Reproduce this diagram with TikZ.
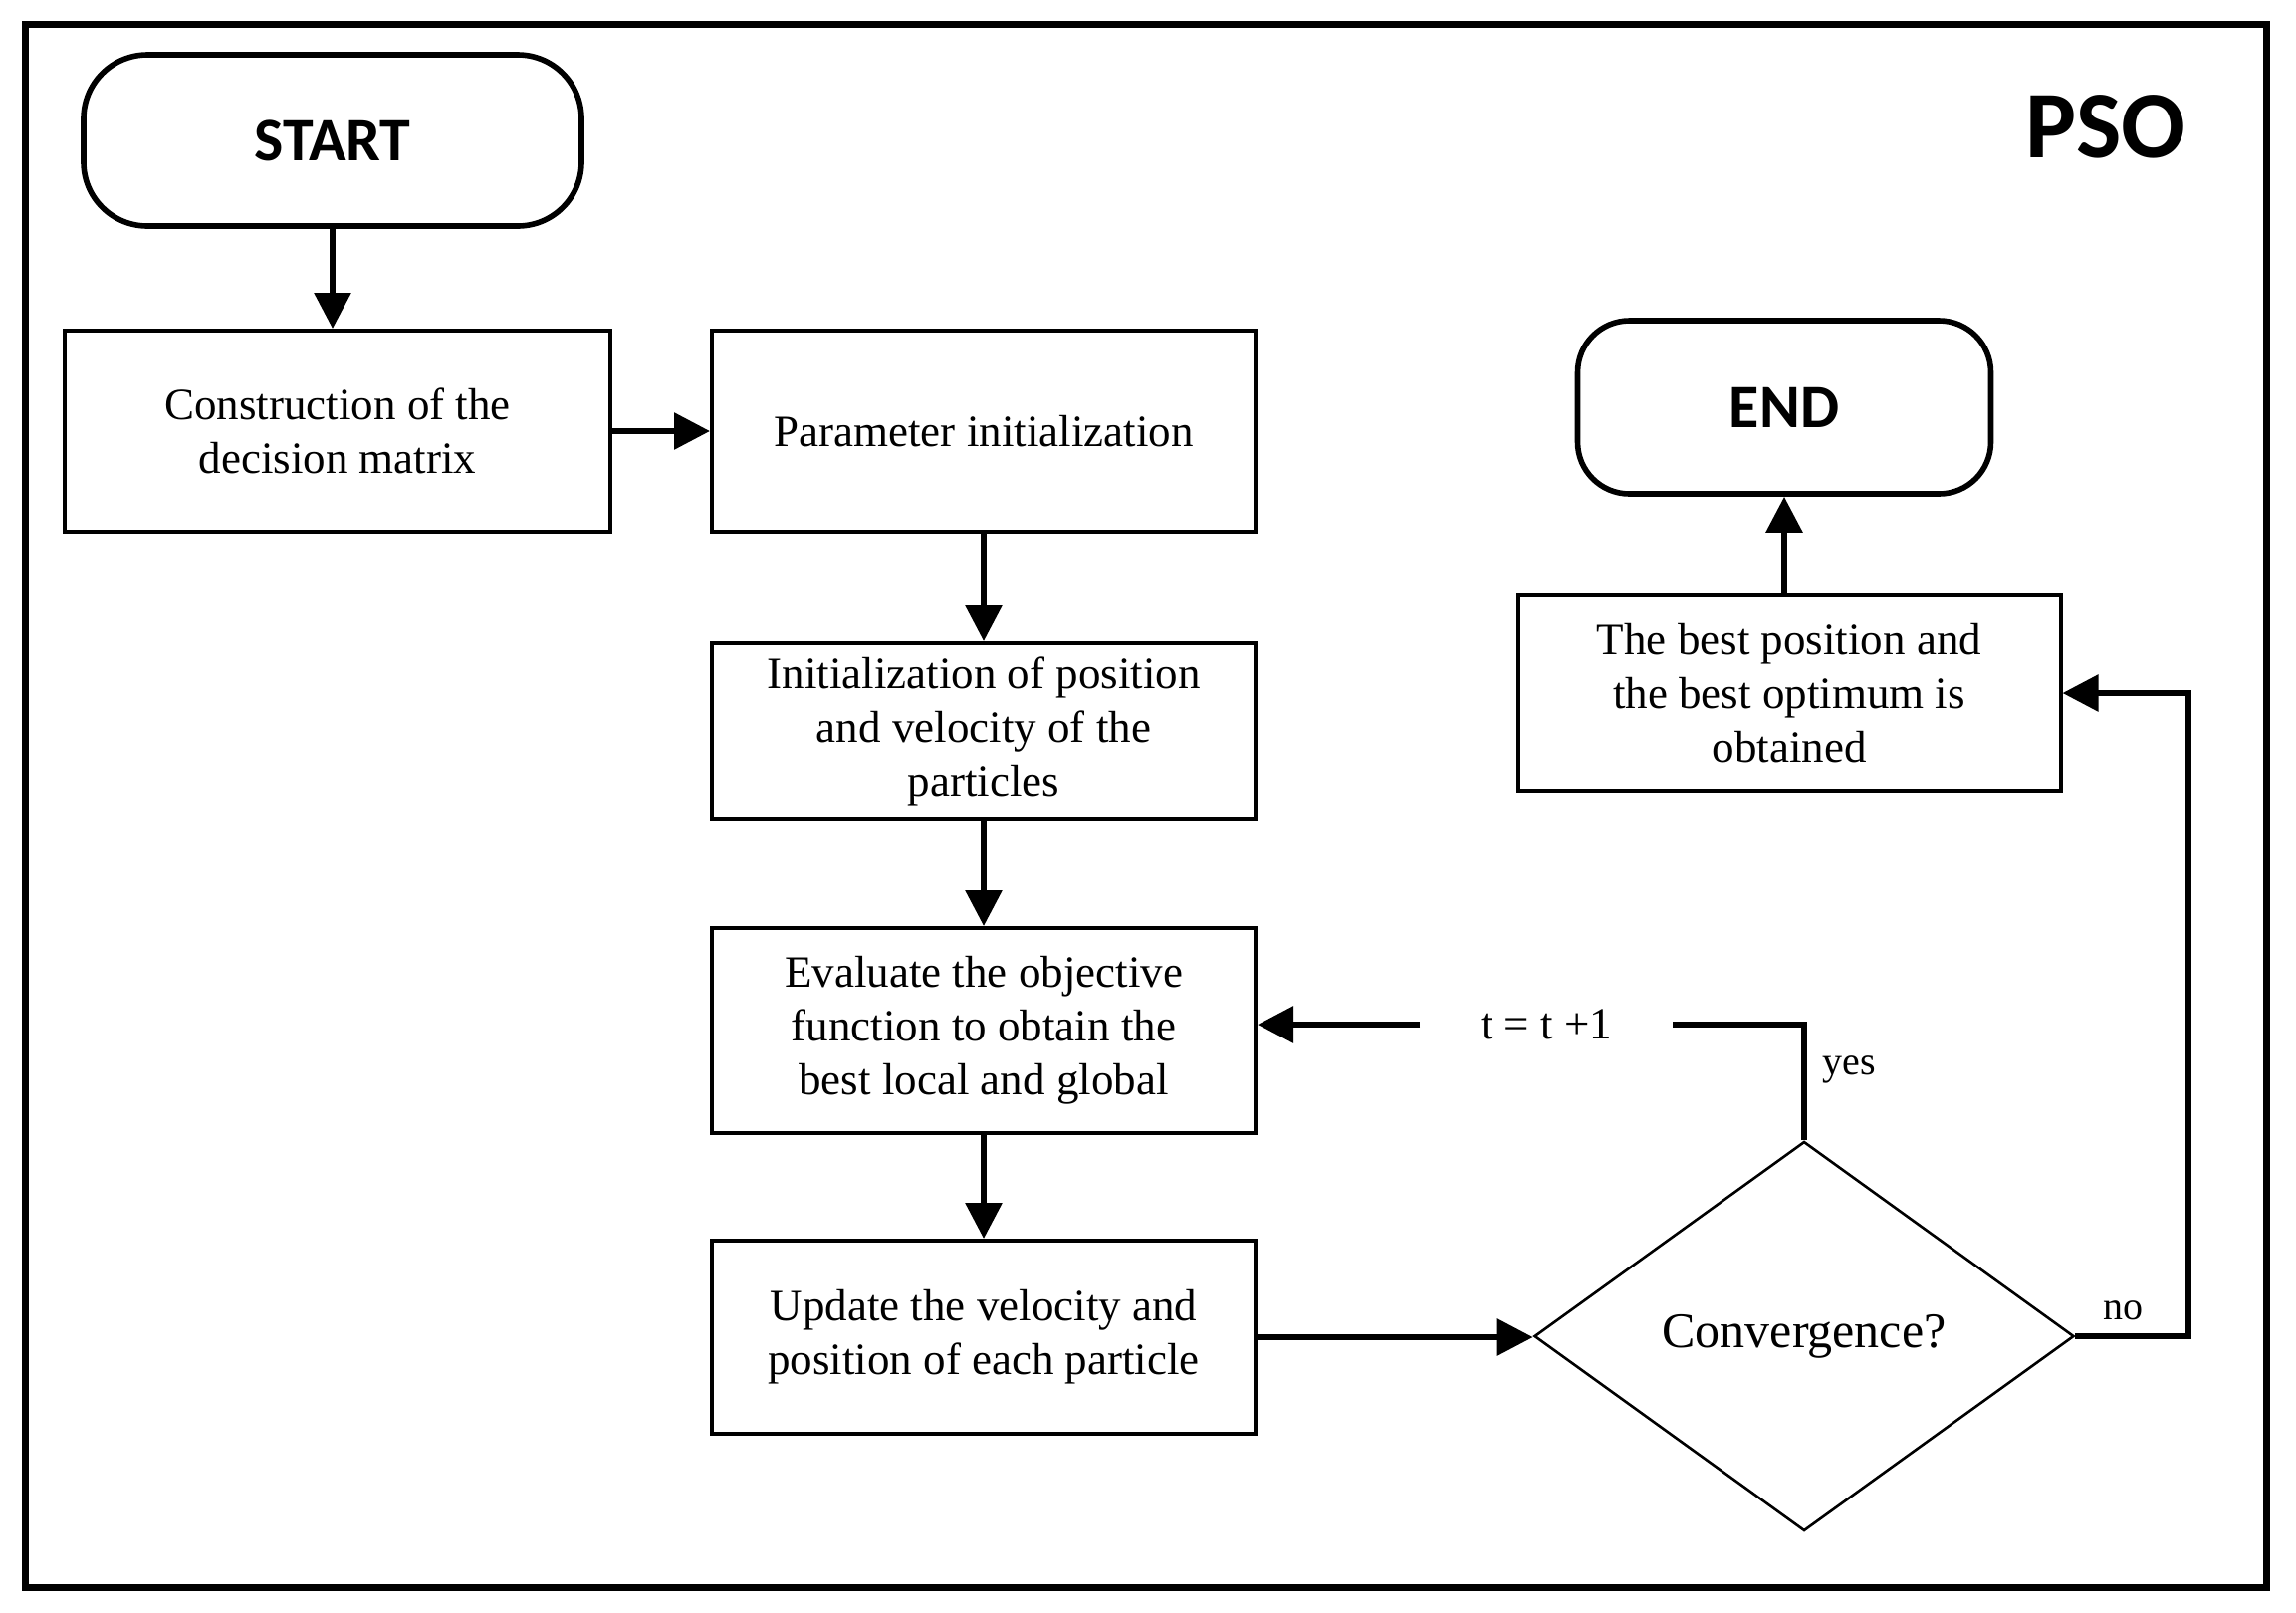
\documentclass[tikz,border=0pt]{standalone}
\usepackage{fontspec}
\setmainfont{Liberation Serif}
\newfontfamily\calib{Carlito}
\usetikzlibrary{arrows.meta,shapes.geometric}
\begin{document}
\begin{tikzpicture}[x=0.5pt,y=-0.5pt,
  box/.style={draw, line width=2pt, align=center, inner sep=0pt,
    font=\fontsize{22.5}{27}\selectfont, minimum width=273pt},
  term/.style={draw, line width=2.8pt, rounded corners=32pt,
    font=\calib\bfseries\fontsize{31}{36}\selectfont},
  arr/.style={line width=3pt, -{Triangle[length=18pt,width=18pt]}},
  conn/.style={line width=3pt},
  lbl/.style={font=\fontsize{20}{24}\selectfont, inner sep=0pt},
  psotext/.style={font=\calib\bfseries\fontsize{48}{56}\selectfont, inner sep=0pt}]
\useasboundingbox (0,0) rectangle (2306,1619);
\fill[white] (0,0) rectangle (2306,1619);
\draw[line width=3.5pt] (25,24) rectangle (2276,1594);

% title
\node[psotext] (pso) at (2115,127) {PSO};

% terminals
\node[term, minimum width=250pt, minimum height=86pt] (start) at (334,141) {START};
\node[term, minimum width=207.5pt, minimum height=87pt, rounded corners=26pt] (end) at (1792,409) {END};

% process boxes
\node[box, minimum width=274pt, minimum height=101pt] (b1) at (339,433) {Construction of the\\decision matrix};
\node[box, minimum height=101pt] (b2) at (988,433) {Parameter initialization};
\node[box, minimum height=88.5pt] (b3) at (988,734.5) {Initialization of position\\and velocity of the\\particles};
\node[box, minimum height=103pt] (b4) at (988,1035) {Evaluate the objective\\function to obtain the\\best local and global};
\node[box, minimum height=97pt] (b5) at (988,1343) {Update the velocity and\\position of each particle};
\node[box, minimum width=272.5pt, minimum height=98pt] (b6) at (1797,696) {The best position and\\the best optimum is\\obtained};

% decision
\node[draw, diamond, line width=1.3pt, minimum width=271pt, minimum height=195.5pt,
  aspect=1.386, inner sep=0pt, font=\fontsize{25}{30}\selectfont] (conv) at (1812,1342) {Convergence?};

% labels
\node[inner sep=0pt, minimum width=126.5pt, font=\fontsize{22.5}{27}\selectfont] (tt) at (1553,1029) {t = t +1};
\node[lbl] (yes) at (1857,1074) {yes};
\node[lbl] (no) at (2132,1316) {no};
\coordinate (nc) at (2198,1342);

% connectors
\draw[arr] (start.south) -- (start.south |- b1.north);
\draw[arr] (b1) -- (b2);
\draw[arr] (b2) -- (b3);
\draw[arr] (b3) -- (b4);
\draw[arr] (b4) -- (b5);
\draw[arr] (b5.east) -- (b5.east -| conv.west);
\draw[conn] (conv.north) |- (tt.east);
\draw[arr] (tt.west) -- (tt.west -| b4.east);
\draw[arr] (conv.east) -- (nc) |- (b6.east);
\draw[arr] (end.south |- b6.north) -- (end.south);
\end{tikzpicture}
\end{document}
